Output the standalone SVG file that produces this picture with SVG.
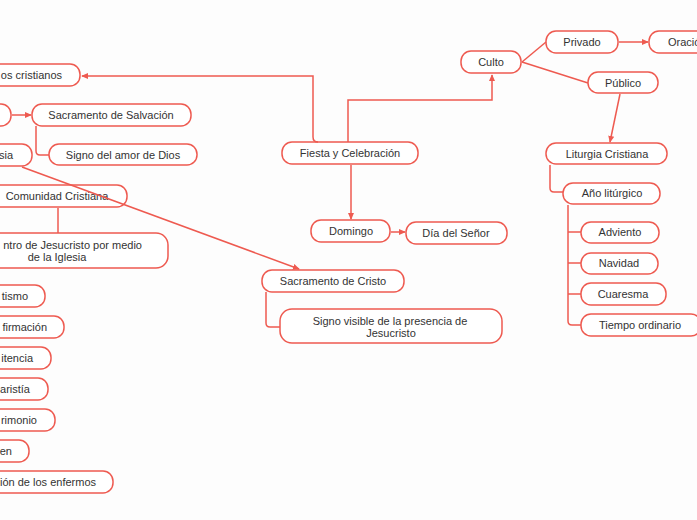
<svg xmlns="http://www.w3.org/2000/svg" width="697" height="520" viewBox="0 0 697 520">
<defs>
<marker id="arr" viewBox="0 0 8 8" refX="7" refY="4" markerWidth="7" markerHeight="7" markerUnits="userSpaceOnUse" orient="auto">
<path d="M0,0.5 L8,4 L0,7.5 Z" fill="#ee5a50"/>
</marker>
<style>
.n rect{fill:#ffffff;stroke:#ee5a50;stroke-width:1.5}
.n text,text{font-family:"Liberation Sans",Arial,sans-serif;font-size:11px;fill:#333333;dominant-baseline:central}
.c path{fill:none;stroke:#ee5a50;stroke-width:1.5}
.m{text-anchor:middle}
.e{text-anchor:end}
</style>
</defs>
<rect x="0" y="0" width="697" height="520" fill="#fdfdfd"/>
<g class="n" id="n-cristianos"><rect x="-80" y="64" width="160" height="22" rx="10"/><text class="e" x="62" y="75">os cristianos</text></g>
<g class="n" id="n-sacramento"><rect x="-40" y="104" width="51" height="22" rx="10"/></g>
<g class="n" id="n-salvacion"><rect x="32" y="104" width="159" height="22" rx="10"/><text class="m" x="111" y="115">Sacramento de Salvación</text></g>
<g class="n" id="n-amor"><rect x="49" y="144" width="148" height="21" rx="10"/><text class="m" x="123" y="155">Signo del amor de Dios</text></g>
<g class="n" id="n-iglesia"><rect x="-40" y="144" width="72" height="22" rx="10"/><text class="e" x="13" y="155">sia</text></g>
<g class="n" id="n-comunidad"><rect x="-12" y="185" width="139" height="22" rx="10"/><text class="m" x="57" y="196">Comunidad Cristiana</text></g>
<g class="n" id="n-encuentro"><rect x="-60" y="233" width="228" height="35" rx="12"/><text class="e" x="142" y="245">ntro de Jesucristo por medio</text><text class="m" x="57" y="257">de la Iglesia</text></g>
<g class="n" id="n-bautismo"><rect x="-30" y="285" width="75" height="22" rx="10"/><text class="e" x="28" y="296">tismo</text></g>
<g class="n" id="n-confirmacion"><rect x="-30" y="316" width="94" height="22" rx="10"/><text class="e" x="47" y="327">firmación</text></g>
<g class="n" id="n-penitencia"><rect x="-30" y="347" width="81" height="22" rx="10"/><text class="e" x="33" y="358">itencia</text></g>
<g class="n" id="n-eucaristia"><rect x="-30" y="378" width="78" height="22" rx="10"/><text class="e" x="30" y="389">aristía</text></g>
<g class="n" id="n-matrimonio"><rect x="-30" y="409" width="85" height="22" rx="10"/><text class="e" x="37" y="420">rimonio</text></g>
<g class="n" id="n-orden"><rect x="-30" y="440" width="59" height="22" rx="10"/><text class="e" x="12" y="451">en</text></g>
<g class="n" id="n-uncion"><rect x="-40" y="471" width="153" height="22" rx="10"/><text class="e" x="96" y="482">ión de los enfermos</text></g>
<g class="n" id="n-fiesta"><rect x="282" y="142" width="136" height="22" rx="10"/><text class="m" x="350" y="153">Fiesta y Celebración</text></g>
<g class="n" id="n-domingo"><rect x="311" y="220" width="79" height="22" rx="10"/><text class="m" x="351" y="231">Domingo</text></g>
<g class="n" id="n-dia"><rect x="406" y="222" width="101" height="22" rx="10"/><text class="m" x="456" y="233">Día del Señor</text></g>
<g class="n" id="n-sacristo"><rect x="262" y="270" width="142" height="22" rx="10"/><text class="m" x="333" y="281">Sacramento de Cristo</text></g>
<g class="n" id="n-signovisible"><rect x="280" y="309" width="222" height="34" rx="12"/><text class="m" x="390" y="321">Signo visible de la presencia de</text><text class="m" x="391" y="333">Jesucristo</text></g>
<g class="n" id="n-culto"><rect x="461" y="51" width="60" height="22" rx="10"/><text class="m" x="491" y="62">Culto</text></g>
<g class="n" id="n-privado"><rect x="546" y="31" width="72" height="22" rx="10"/><text class="m" x="582" y="42">Privado</text></g>
<g class="n" id="n-oracion"><rect x="649" y="31" width="80" height="22" rx="10"/><text x="668" y="42">Oración</text></g>
<g class="n" id="n-publico"><rect x="588" y="72" width="70" height="21" rx="10"/><text class="m" x="623" y="83">Público</text></g>
<g class="n" id="n-liturgia"><rect x="546" y="143" width="121" height="21" rx="10"/><text class="m" x="607" y="154">Liturgia Cristiana</text></g>
<g class="n" id="n-ano"><rect x="563" y="183" width="97" height="21" rx="10"/><text class="m" x="612" y="193">Año litúrgico</text></g>
<g class="n" id="n-adviento"><rect x="581" y="222" width="78" height="21" rx="10"/><text class="m" x="620" y="232">Adviento</text></g>
<g class="n" id="n-navidad"><rect x="581" y="253" width="77" height="21" rx="10"/><text class="m" x="619" y="263">Navidad</text></g>
<g class="n" id="n-cuaresma"><rect x="581" y="283" width="85" height="22" rx="10"/><text class="m" x="623" y="294">Cuaresma</text></g>
<g class="n" id="n-tiempo"><rect x="581" y="314" width="120" height="22" rx="10"/><text class="m" x="640" y="325">Tiempo ordinario</text></g>
<g class="c" id="connectors">
<path d="M318,142 Q313,142 313,137 L313,76 L82,76" marker-end="url(#arr)"/>
<path d="M348,142 L348,100 L492,100 L492,75" marker-end="url(#arr)"/>
<path d="M351,165 L351,219" marker-end="url(#arr)"/>
<path d="M391,232 L405,232" marker-end="url(#arr)"/>
<path d="M12,115 L31,115" marker-end="url(#arr)"/>
<path d="M36,126 L36,151 Q36,155 40,155 L49,155"/>
<path d="M22,167 L299,269" marker-end="url(#arr)"/>
<path d="M58,208 L58,233"/>
<path d="M266,292 L266,323 Q266,327 270,327 L280,327"/>
<path d="M522,62 L546,42"/>
<path d="M522,62 L588,83"/>
<path d="M619,42 L648,42" marker-end="url(#arr)"/>
<path d="M620,94 L610,142" marker-end="url(#arr)"/>
<path d="M550,165 L550,188 Q550,192 554,192 L563,192"/>
<path d="M568,205 L568,321 Q568,325 572,325 L581,325"/>
<path d="M568,232 L581,232"/>
<path d="M568,263 L581,263"/>
<path d="M568,294 L581,294"/>
</g>
</svg>
